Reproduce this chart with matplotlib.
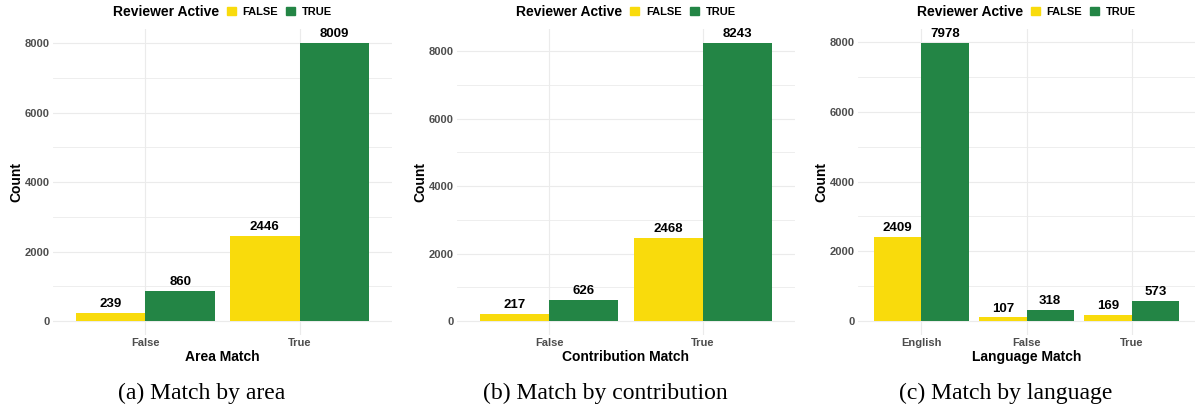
import numpy as np
import matplotlib
matplotlib.use("Agg")
import matplotlib.pyplot as plt
from matplotlib.patches import Patch

# data
area_cats = ["False", "True"]
area_inactive = [239, 2446]
area_active = [860, 8009]

contrib_cats = ["False", "True"]
contrib_inactive = [217, 2468]
contrib_active = [626, 8243]

lang_cats = ["English", "False", "True"]
lang_inactive = [2409, 107, 169]
lang_active = [7978, 318, 573]

xlabels = ["Area Match", "Contribution Match", "Language Match"]
captions = ["(a) Match by area", "(b) Match by contribution", "(c) Match by language"]
legend_labels = ["FALSE", "TRUE"]

YELLOW = "#F9DB0C"
GREEN = "#238545"
GRID = "#EBEBEB"

plt.rcParams["font.family"] = ["Liberation Sans", "DejaVu Sans"]

W, H = 1196, 409
fig = plt.figure(figsize=(W / 100, H / 100), dpi=100)

# panel boxes in pixels: left, right, top, bottom
boxes = [(53, 392, 29, 335), (457, 795, 29, 335), (858, 1195, 29, 335)]
panels = [
    (area_cats, area_inactive, area_active),
    (contrib_cats, contrib_inactive, contrib_active),
    (lang_cats, lang_inactive, lang_active),
]


def draw_panel(ax, cats, inactive, active, xlabel):
    x = np.arange(len(cats))
    w = 0.45
    b1 = ax.bar(x - w / 2, inactive, w, color=YELLOW, zorder=3)
    b2 = ax.bar(x + w / 2, active, w, color=GREEN, zorder=3)
    ax.bar_label(b1, padding=2, fontsize=9.5, fontweight="bold")
    ax.bar_label(b2, padding=2, fontsize=9.5, fontweight="bold")

    top = max(max(inactive), max(active))
    ax.set_ylim(-0.05 * top, 1.05 * top)
    ax.set_xlim(-0.6, len(cats) - 1 + 0.6)
    ax.set_xticks(x)
    ax.set_xticklabels(cats)
    ax.set_yticks(np.arange(0, 1.05 * top, 2000))
    ax.set_yticks(np.arange(1000, 1.05 * top, 2000), minor=True)

    ax.grid(True, which="major", color=GRID, linewidth=0.8, zorder=0)
    ax.grid(True, which="minor", axis="y", color=GRID, linewidth=0.6, zorder=0)
    ax.set_axisbelow(True)
    for s in ax.spines.values():
        s.set_visible(False)
    ax.tick_params(which="both", length=0, labelsize=8, labelcolor="#4D4D4D", pad=2.5)
    for lab in ax.get_xticklabels() + ax.get_yticklabels():
        lab.set_fontweight("bold")

    ax.set_xlabel(xlabel, fontsize=10, fontweight="bold", labelpad=1)
    ax.set_ylabel("Count", fontsize=10, fontweight="bold", labelpad=1)

    # legend on top: title on the left, keys to the right
    ax.text(0.49, 1.056, "Reviewer Active", transform=ax.transAxes,
            ha="right", va="center", fontsize=10, fontweight="bold")
    handles = [Patch(color=YELLOW), Patch(color=GREEN)]
    ax.legend(handles, legend_labels, ncol=2, loc="center left",
              bbox_to_anchor=(0.513, 1.056), frameon=False,
              handlelength=0.8, handleheight=0.8, handletextpad=0.6,
              columnspacing=0.75, borderaxespad=0, borderpad=0,
              prop={"size": 8, "weight": "bold"})


for (l, r, t, b), (cats, inact, act), xl, cap in zip(boxes, panels, xlabels, captions):
    ax = fig.add_axes([l / W, 1 - b / H, (r - l) / W, (b - t) / H])
    draw_panel(ax, cats, inact, act, xl)
    fig.text(((l + r) / 2 - 21) / W, 1 - 393 / H, cap, ha="center", va="center",
             fontsize=17, family=["Liberation Serif", "DejaVu Serif"])

fig.savefig("out.png", dpi=100)
